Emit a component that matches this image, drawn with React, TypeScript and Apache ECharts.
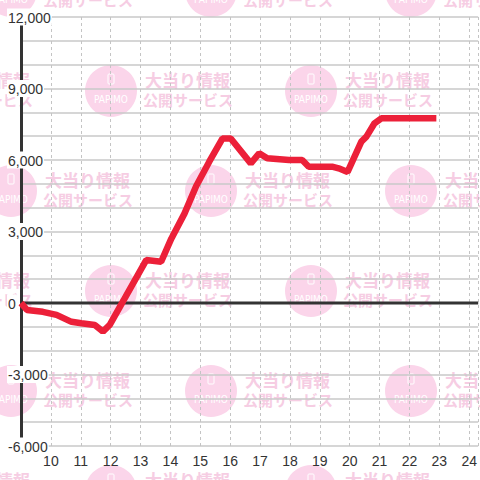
import React, { useEffect, useRef } from "react";
import * as echarts from "echarts";

const hours: number[] = [
  9.0, 9.2, 9.73, 10.19, 10.69, 11.02, 11.47, 11.74, 11.97, 13.19, 13.69, 14.03,
  14.47, 14.86, 15.3, 15.74, 16.02, 16.69, 16.97, 17.24, 17.97, 18.41, 18.63,
  19.41, 19.63, 19.93, 20.39, 20.56, 20.83, 21.06, 22.9,
];
const values: number[] = [
  0, -290, -370, -500, -790, -850, -920, -1200, -920, 1800, 1730, 2700,
  3750, 4900, 5930, 6900, 6900, 5860, 6280, 6070, 6000, 6000, 5720,
  5720, 5650, 5500, 6770, 6980, 7540, 7750, 7750,
];
const zeroLineX: number[] = [9, 24.3];
const zeroLineY: number[] = [0, 0];
const yLabelValues: number[] = [-6000, -3000, 0, 3000, 6000, 9000, 12000];
const xLabelValues: number[] = [10, 11, 12, 13, 14, 15, 16, 17, 18, 19, 20, 21, 22, 23, 24];

function buildWatermark(): any[] {
  const els: any[] = [];
  const circleFill = "#fbd5ea";
  const textFill = "#f6cde3";
  for (let row = -1; row <= 5; row++) {
    const cy = 91 + row * 100;
    const off = row % 2 === 0 ? 111 : 11;
    for (let cx = off - 200; cx < 520; cx += 200) {
      els.push({
        type: "group",
        z: -10,
        silent: true,
        children: [
          { type: "circle", shape: { cx, cy, r: 26 }, style: { fill: circleFill }, z: -10 },
          {
            type: "rect",
            shape: { x: cx - 3, y: cy - 17, width: 6, height: 10, r: 1 },
            style: { fill: "none", stroke: "#ffffff", lineWidth: 1 },
            z: -9,
          },
          {
            type: "text",
            x: cx,
            y: cy + 8,
            style: {
              text: "PAPIMO",
              fill: "#ffffff",
              font: "10px 'DejaVu Sans Condensed', 'Liberation Sans Narrow', sans-serif",
              align: "center",
              verticalAlign: "middle",
            },
            z: -9,
          },
          {
            type: "text",
            x: cx + 34,
            y: cy - 12,
            style: {
              text: "大当り情報",
              fill: textFill,
              font: "bold 17px 'Noto Sans CJK JP'",
              align: "left",
              verticalAlign: "middle",
            },
            z: -10,
          },
          {
            type: "text",
            x: cx + 32,
            y: cy + 8,
            style: {
              text: "公開サービス",
              fill: textFill,
              font: "bold 15px 'Noto Sans CJK JP'",
              align: "left",
              verticalAlign: "middle",
            },
            z: -10,
          },
        ],
      });
    }
  }
  return els;
}

export default function App() {
  const ref = useRef<HTMLDivElement>(null);
  useEffect(() => {
    if (!ref.current) return;
    const chart = echarts.init(ref.current, undefined, { renderer: "svg" });
    const fmt = (v: number) => v.toLocaleString("en-US");
    chart.setOption({
      animation: false,
      backgroundColor: "#ffffff",
      graphic: buildWatermark(),
      grid: { left: 21, right: 0, top: 17, bottom: 34, containLabel: false },
      xAxis: {
        type: "value",
        min: 9,
        max: 24.3,
        interval: 1,
        axisLine: { show: false, onZero: false },
        axisTick: { show: false },
        axisLabel: {
          margin: 8,
          color: "#333",
          fontSize: 14,
          fontFamily: "'Liberation Sans', Arial, sans-serif",
          formatter: (v: number) => (xLabelValues.indexOf(v) >= 0 ? String(v) : ""),
          showMinLabel: false,
          showMaxLabel: false,
        },
        splitLine: {
          show: true,
          lineStyle: { color: "#c4c4c4", type: [3, 3], width: 1 },
        },
      },
      yAxis: {
        type: "value",
        min: -6000,
        max: 12000,
        interval: 1000,
        axisLine: { show: true, onZero: false, lineStyle: { color: "#333", width: 3 } },
        axisTick: { show: false },
        axisLabel: {
          margin: 14,
          align: "left",
          formatter: (v: number) => (yLabelValues.indexOf(v) >= 0 ? "{a|" + fmt(v) + "}" : ""),
          rich: {
            a: {
              color: "#333",
              fontSize: 14,
              fontFamily: "'Liberation Sans', Arial, sans-serif",
              backgroundColor: "#ffffff",
              padding: [2, 1, 1, 1],
            },
          },
        },
        splitLine: { show: true, lineStyle: { color: "#c8c8c8", width: 1.5 } },
      },
      series: [
        {
          type: "line",
          z: 1,
          silent: true,
          showSymbol: false,
          symbol: "none",
          data: zeroLineX.map((x, i) => [x, zeroLineY[i]]),
          lineStyle: { color: "#333", width: 3 },
        },
        {
          type: "line",
          z: 3,
          showSymbol: false,
          symbol: "none",
          data: hours.map((h, i) => [h, values[i]]),
          lineStyle: { color: "#ec2039", width: 6.5 },
        },
      ],
    });
    return () => chart.dispose();
  }, []);
  return (
    <div
      ref={ref}
      style={{ position: "fixed", left: 0, top: 0, width: 480, height: 480 }}
    />
  );
}
